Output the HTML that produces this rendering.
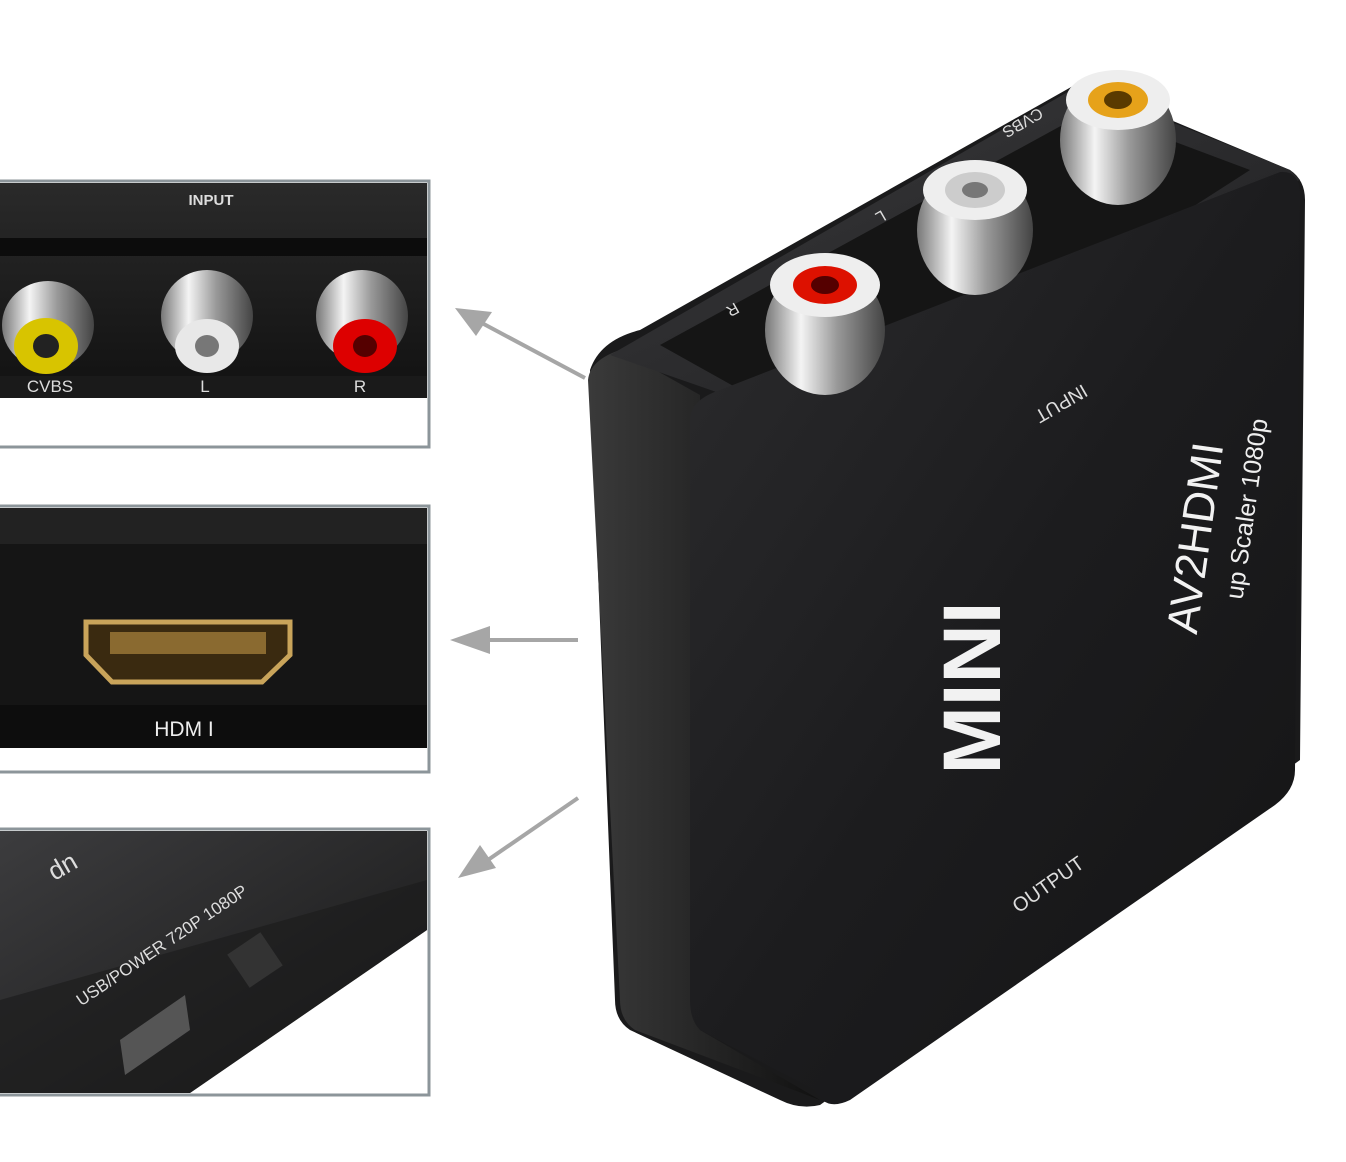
<!DOCTYPE html>
<html><head><meta charset="utf-8"><style>
html,body{margin:0;padding:0;background:#fff;}
svg{display:block;font-family:"Liberation Sans",sans-serif;}
</style></head><body>
<svg width="1346" height="1162" viewBox="0 0 1346 1162" xmlns="http://www.w3.org/2000/svg">
<defs>
<linearGradient id="front" x1="0" y1="0" x2="1" y2="1">
<stop offset="0" stop-color="#2c2c2e"/><stop offset="0.5" stop-color="#1c1c1e"/><stop offset="1" stop-color="#141415"/></linearGradient>
<linearGradient id="side" x1="0" y1="0" x2="1" y2="0">
<stop offset="0" stop-color="#3a3a3a"/><stop offset="1" stop-color="#111"/></linearGradient>
<linearGradient id="top" x1="0" y1="0" x2="1" y2="1">
<stop offset="0" stop-color="#3a3a3c"/><stop offset="1" stop-color="#1e1e20"/></linearGradient>
<linearGradient id="chrome" x1="0" y1="0" x2="1" y2="0">
<stop offset="0" stop-color="#777"/><stop offset="0.3" stop-color="#f4f4f4"/><stop offset="0.6" stop-color="#999"/><stop offset="1" stop-color="#444"/></linearGradient>
<linearGradient id="p1" x1="0" y1="0" x2="0" y2="1">
<stop offset="0" stop-color="#2a2a2a"/><stop offset="1" stop-color="#111"/></linearGradient>
<linearGradient id="p3" x1="0" y1="0" x2="1" y2="1">
<stop offset="0" stop-color="#3c3c3e"/><stop offset="1" stop-color="#161616"/></linearGradient>
</defs>

<!-- Panel 1 -->
<rect x="-5" y="181" width="434" height="266" fill="#fff" stroke="#8c959a" stroke-width="3"/>
<rect x="0" y="183" width="427" height="215" fill="url(#p1)"/>
<rect x="0" y="238" width="427" height="18" fill="#0c0c0c"/>
<rect x="0" y="376" width="427" height="22" fill="#1a1a1a"/>
<text x="211" y="205" fill="#ddd" font-size="15" font-weight="bold" text-anchor="middle">INPUT</text>
<g>
<ellipse cx="48" cy="325" rx="46" ry="44" fill="url(#chrome)"/><ellipse cx="46" cy="346" rx="32" ry="28" fill="#d8c400"/><ellipse cx="46" cy="346" rx="13" ry="12" fill="#222"/>
<ellipse cx="207" cy="316" rx="46" ry="46" fill="url(#chrome)"/><ellipse cx="207" cy="346" rx="32" ry="27" fill="#e8e8e8"/><ellipse cx="207" cy="346" rx="12" ry="11" fill="#777"/>
<ellipse cx="362" cy="316" rx="46" ry="46" fill="url(#chrome)"/><ellipse cx="365" cy="346" rx="32" ry="27" fill="#d00"/><ellipse cx="365" cy="346" rx="12" ry="11" fill="#500"/>
</g>
<text x="50" y="392" fill="#ddd" font-size="17" text-anchor="middle">CVBS</text>
<text x="205" y="392" fill="#ddd" font-size="17" text-anchor="middle">L</text>
<text x="360" y="392" fill="#ddd" font-size="17" text-anchor="middle">R</text>

<!-- Panel 2 -->
<rect x="-5" y="506" width="434" height="266" fill="#fff" stroke="#8c959a" stroke-width="3"/>
<rect x="0" y="508" width="427" height="240" fill="#151515"/>
<rect x="0" y="508" width="427" height="36" fill="#222"/>
<rect x="0" y="705" width="427" height="43" fill="#0d0d0d"/>
<path d="M86 622 L290 622 L290 655 L262 682 L112 682 L86 655 Z" fill="#3a2a10" stroke="#c9a45a" stroke-width="5"/>
<rect x="110" y="632" width="156" height="22" fill="#8a6a30"/>
<text x="184" y="736" fill="#eee" font-size="21" text-anchor="middle">HDM I</text>

<!-- Panel 3 -->
<rect x="-5" y="829" width="434" height="266" fill="#fff" stroke="#8c959a" stroke-width="3"/>
<path d="M0 831 L427 831 L427 930 L190 1093 L0 1093 Z" fill="url(#p3)"/>
<path d="M0 1000 L427 880 L427 930 L190 1093 L0 1093 Z" fill="#1b1b1b" opacity="0.6"/>
<text transform="translate(60 862) rotate(150)" fill="#ddd" font-size="26" text-anchor="middle">up</text>
<text transform="translate(165 950) rotate(-34)" fill="#ddd" font-size="17" text-anchor="middle">USB/POWER 720P  1080P</text>
<path d="M120 1040 L185 995 L190 1030 L125 1075 Z" fill="#555"/>
<rect x="235" y="940" width="40" height="40" fill="#333" transform="rotate(-34 255 960)"/>

<!-- Arrows -->
<g stroke="#a6a6a6" stroke-width="4" fill="#a6a6a6">
<line x1="585" y1="378" x2="480" y2="322"/>
<polygon points="455,308 492,312 476,336" stroke="none"/>
<line x1="578" y1="640" x2="470" y2="640"/>
<polygon points="450,640 490,626 490,654" stroke="none"/>
<line x1="578" y1="798" x2="485" y2="862"/>
<polygon points="458,878 480,845 496,868" stroke="none"/>
</g>

<!-- Device -->
<path d="M590 370 Q600 340 640 330 L1080 82 L1290 170 Q1305 180 1305 200 L1300 760 L820 1105 Q800 1110 780 1100 L630 1030 Q615 1020 615 1000 Z" fill="#1a1a1b"/>
<path d="M588 380 Q590 360 620 350 L700 395 L700 1030 L820 1100 L635 1030 Q620 1020 620 1000 Z" fill="url(#side)"/>
<path d="M610 355 L1080 85 L1290 170 L1300 180 L725 395 Z" fill="url(#top)"/>
<path d="M660 345 L1090 110 L1250 170 L830 440 Z" fill="#151515"/>
<path d="M690 420 Q690 400 720 390 L1280 172 Q1300 170 1300 195 L1295 770 Q1295 790 1275 805 L850 1100 Q825 1112 815 1090 L700 1030 Q690 1020 690 1000 Z" fill="url(#front)"/>
<g>
<ellipse cx="1118" cy="140" rx="58" ry="65" fill="url(#chrome)"/><ellipse cx="1118" cy="100" rx="52" ry="30" fill="#eee"/><ellipse cx="1118" cy="100" rx="30" ry="18" fill="#e6a21a"/><ellipse cx="1118" cy="100" rx="14" ry="9" fill="#5a3a00"/>
<ellipse cx="975" cy="230" rx="58" ry="65" fill="url(#chrome)"/><ellipse cx="975" cy="190" rx="52" ry="30" fill="#eee"/><ellipse cx="975" cy="190" rx="30" ry="18" fill="#ccc"/><ellipse cx="975" cy="190" rx="13" ry="8" fill="#777"/>
<ellipse cx="825" cy="330" rx="60" ry="65" fill="url(#chrome)"/><ellipse cx="825" cy="285" rx="55" ry="32" fill="#eee"/><ellipse cx="825" cy="285" rx="32" ry="19" fill="#d10"/><ellipse cx="825" cy="285" rx="14" ry="9" fill="#500"/>
</g>
<text transform="translate(1020 118) rotate(150)" fill="#ddd" font-size="16" text-anchor="middle">CVBS</text>
<text transform="translate(878 212) rotate(150)" fill="#ddd" font-size="16" text-anchor="middle">L</text>
<text transform="translate(730 305) rotate(150)" fill="#ddd" font-size="16" text-anchor="middle">R</text>
<text transform="translate(1058 398) rotate(150)" fill="#ddd" font-size="19" text-anchor="middle">INPUT</text>
<text transform="translate(1000 688) rotate(-90)" fill="#f2f2f2" font-size="82" font-weight="bold" text-anchor="middle">MINI</text>
<text transform="translate(1210 540) rotate(-82)" fill="#f2f2f2" font-size="44" text-anchor="middle">AV2HDMI</text>
<text transform="translate(1255 510) rotate(-82)" fill="#eee" font-size="25" text-anchor="middle">up Scaler 1080p</text>
<text transform="translate(1052 890) rotate(-35)" fill="#ddd" font-size="20" text-anchor="middle">OUTPUT</text>
</svg>
</body></html>
